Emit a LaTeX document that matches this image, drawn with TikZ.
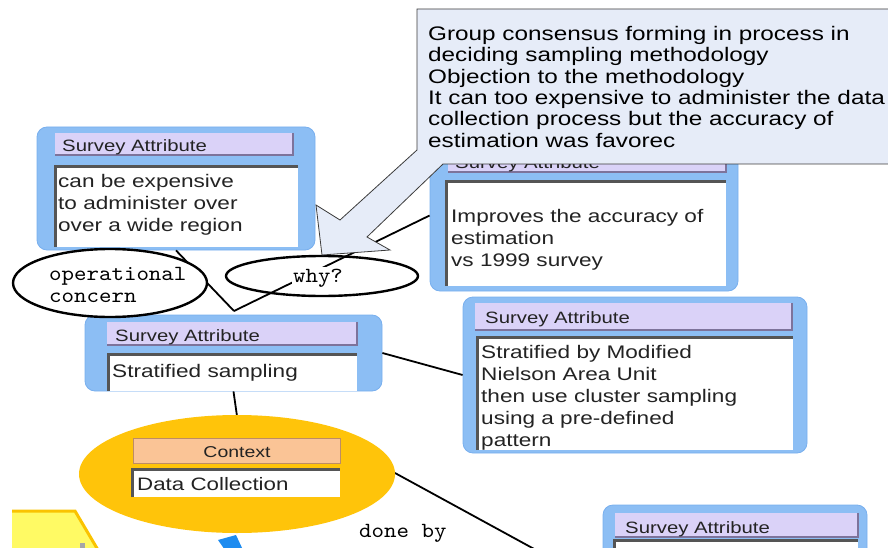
\documentclass[tikz,border=0pt]{standalone}
\usepackage{fontspec}
\newfontfamily\boxsans[FakeStretch=1.24]{Liberation Sans}
\newfontfamily\boxmono[FakeStretch=1.1]{lmmono10-regular.otf}
\usetikzlibrary{shapes.geometric}

\definecolor{frameblue}{RGB}{140,190,244}
\definecolor{frameedge}{RGB}{120,175,238}
\definecolor{lavender}{RGB}{218,210,248}
\definecolor{lavshade}{RGB}{125,115,155}
\definecolor{areaedge}{RGB}{85,85,85}
\definecolor{ctxgold}{RGB}{255,196,10}
\definecolor{peach}{RGB}{250,196,150}
\definecolor{peachedge}{RGB}{190,140,100}
\definecolor{notefill}{RGB}{230,236,248}
\definecolor{noteedge}{RGB}{60,60,60}
\definecolor{txt}{RGB}{35,35,35}
\definecolor{padyellow}{RGB}{255,250,100}
\definecolor{padgold}{RGB}{250,195,0}
\definecolor{flowblue}{RGB}{30,140,240}

\begin{document}
\begin{tikzpicture}[x=1pt,y=-1pt,
  frame/.style={fill=frameblue, draw=frameedge, line width=0.8pt,
    rounded corners=10pt, inner sep=0pt},
  hdr/.style={fill=lavender, inner sep=0pt},
  hdrline/.style={draw=lavshade, line width=2pt},
  area/.style={fill=white, inner sep=0pt},
  arealine/.style={draw=areaedge, line width=3pt},
  hdrtext/.style={anchor=base west, inner sep=0pt, text=txt,
    font=\boxsans\fontsize{16.4}{20}\selectfont},
  bodytext/.style={anchor=north west, inner sep=0pt, align=left, text=txt,
    font=\boxsans\fontsize{18.2}{22}\selectfont},
  link/.style={draw=black, line width=1.8pt},
  bubble/.style={ellipse, draw=black, line width=2.4pt, inner sep=0pt},
  monotext/.style={inner sep=0pt, text=black,
    font=\boxmono\fontsize{21.6}{22.5}\selectfont},
]
\useasboundingbox (0,0) rectangle (888,548);
\clip (0,0) rectangle (888,548);

% ---- shapes at the lower left edge
\filldraw[fill=padyellow, draw=padgold, line width=3pt]
  (12,511) -- (75,511) -- (98,550) -- (12,550);
\fill[gray!70] (80,543) rectangle (85,550);
\fill[flowblue] (218,540) -- (236,535) -- (243,550) -- (225,550) -- cycle;

% ---- attribute boxes (frames first)
\node[frame, minimum width=278, minimum height=123] (A) at (176,188.5) {};
\node[frame, minimum width=308, minimum height=151] (B) at (584,215.5) {};
\node[frame, minimum width=297, minimum height=76]  (C) at (233.5,353) {};
\node[frame, minimum width=344, minimum height=156] (D) at (635,375) {};
\node[frame, minimum width=264, minimum height=105] (E) at (735,557.5) {};

% ---- connectors
\coordinate (cv) at (234,311);
\coordinate (doneend) at (558,562);
\draw[link] (A.south) -- (cv);
\draw[link] (B.west) -- (cv);
\draw[link] (C.east) -- (D.west);

% ---- headers
\node[hdr, minimum width=238, minimum height=22] (hA) at (174,144) {};
\node[hdr, minimum width=278, minimum height=24] (hB) at (587,160) {};
\node[hdr, minimum width=250, minimum height=23] (hC) at (232,333.5) {};
\node[hdr, minimum width=317, minimum height=27] (hD) at (633.5,316.5) {};
\node[hdr, minimum width=243, minimum height=24] (hE) at (736.5,525) {};
\foreach \h in {hA,hB,hC,hD,hE}
  \draw[hdrline] (\h.north east) -- (\h.south east) -- (\h.south west);

\node[hdrtext] (tA) at (62,151.5) {Survey Attribute};
\node[hdrtext] (tB) at (455,168) {Survey Attribute};
\node[hdrtext] (tC) at (115,341) {Survey Attribute};
\node[hdrtext] (tD) at (485,323) {Survey Attribute};
\node[hdrtext] (tE) at (625,533) {Survey Attribute};

% ---- text areas
\node[area, minimum width=242, minimum height=80]  (aA) at (177,207) {};
\node[area, minimum width=279, minimum height=104] (aB) at (586.5,234) {};
\node[area, minimum width=248, minimum height=36]  (aC) at (233,373) {};
\node[area, minimum width=315, minimum height=112] (aD) at (635.5,394) {};
\node[area, minimum width=243, minimum height=69]  (aE) at (736.5,575.5) {};
\foreach \a in {aA,aB,aC,aD,aE}
  \draw[arealine] (\a.south west) -- (\a.north west) -- (\a.north east);

\node[bodytext] (xA) at (58,173) {\rule{0pt}{14pt}can be expensive\\to administer over\\over a wide region};
\node[bodytext] (xB) at (451,208) {\rule{0pt}{14pt}Improves the accuracy of\\estimation\\vs 1999 survey};
\node[bodytext, anchor=base west] (xC) at (112,377) {Stratified sampling};
\node[bodytext] (xD) at (481,344) {\rule{0pt}{14pt}Stratified by Modified\\Nielson Area Unit\\then use cluster sampling\\using a pre-defined\\pattern};

% ---- context bubble
\draw[link] (C.south) -- (237,416);
\draw[link] (395,473) -- (doneend);
\node[ellipse, fill=ctxgold, minimum width=316, minimum height=118, inner sep=0pt] (ctx) at (237,474) {};
\node[fill=peach, draw=peachedge, line width=1pt, minimum width=207, minimum height=25, inner sep=0pt] (hctx) at (236.5,450.5) {};
\node[anchor=base, inner sep=0pt, text=txt, font=\boxsans\fontsize{15.7}{18}\selectfont] (tctx) at (237,457) {Context};
\node[area, minimum width=207, minimum height=27] (actx) at (236.5,483.5) {};
\draw[arealine] (actx.south west) -- (actx.north west) -- (actx.north east);
\node[anchor=base west, inner sep=0pt, text=txt, font=\boxsans\fontsize{18}{22}\selectfont] (xctx) at (137,490) {Data Collection};
\node[monotext, anchor=base west] (doneby) at (359,537) {done by};

% ---- remark bubbles
\node[bubble, fill=white, minimum width=194, minimum height=68] (op) at (110,283) {};
\node[monotext, anchor=north west, align=left] (optext) at (49,267) {\rule{0pt}{13pt}operational\\concern};
\node[bubble, minimum width=192, minimum height=40] (why) at (322,276) {};
\node[monotext, anchor=base, fill=white, inner sep=1.5pt] (whytext) at (318,282) {why?};

% ---- callout note with block arrow
\filldraw[fill=notefill, draw=noteedge, line width=0.8pt]
  (417,9) -- (895,9) -- (895,164) -- (443,164) -- (367,237) -- (390,250)
  -- (322,255) -- (316,205) -- (340,220) -- (417,150) -- cycle;
\node[anchor=north west, inner sep=0pt, align=left, text=black,
  font=\boxsans\fontsize{19.6}{21.3}\selectfont] (note) at (428,25.5)
  {\rule{0pt}{15pt}Group consensus forming in process in\\
   deciding sampling methodology\\
   Objection to the methodology\\
   It can too expensive to administer the data\\
   collection process but the accuracy of\\
   estimation was favorec};
\end{tikzpicture}
\end{document}
